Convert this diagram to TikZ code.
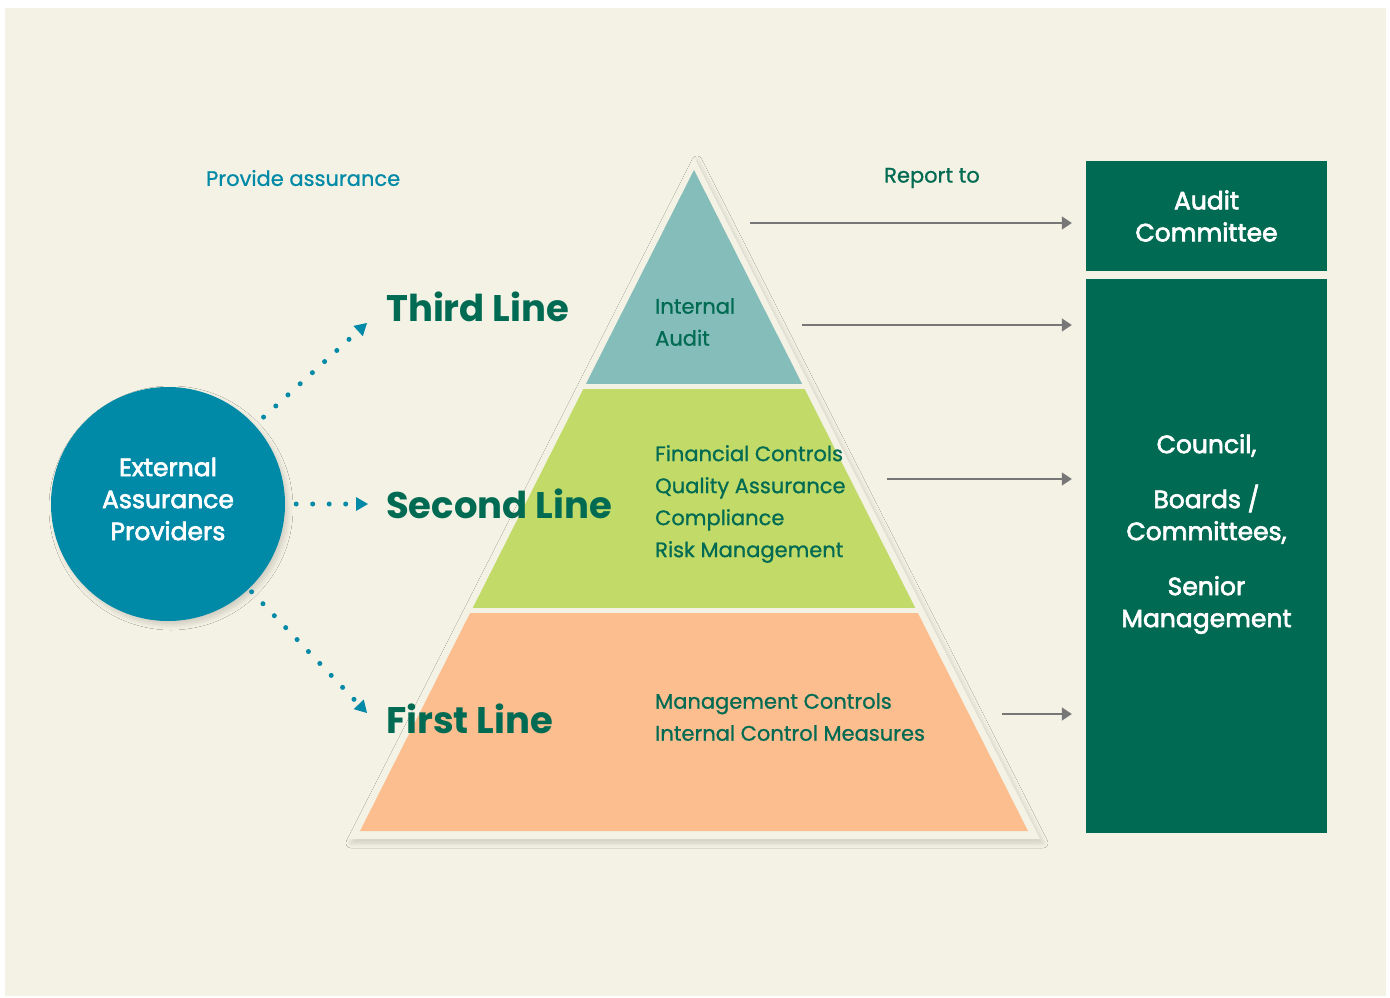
\documentclass[tikz,border=0pt]{standalone}
\usepackage{fontspec}
\setmainfont{Poppins}
\newfontfamily\boxfont[FakeBold=2.6]{Poppins}
\newfontfamily\bodyfont[FakeBold=0.8]{Poppins}
\usetikzlibrary{arrows.meta,shadows.blur}
\definecolor{paper}{HTML}{F4F2E4}
\definecolor{deepgreen}{HTML}{006A52}
\definecolor{seablue}{HTML}{008AA8}
\definecolor{auditteal}{HTML}{84BDBA}
\definecolor{bandlime}{HTML}{C2DA68}
\definecolor{bandpeach}{HTML}{FCBE8F}
\definecolor{arrowgray}{HTML}{777777}
\begin{document}
\begin{tikzpicture}[x=1pt,y=-1pt,
  body/.style={font=\bodyfont\fontsize{21}{32}\selectfont, text=deepgreen, align=left, anchor=west, inner sep=0pt},
  linelabel/.style={font=\fontsize{37}{44}\selectfont\bfseries, text=deepgreen, anchor=west, inner sep=0pt},
  boxtext/.style={font=\boxfont\fontsize{25}{32}\selectfont, text=white, align=center},
  greenbox/.style={fill=deepgreen, minimum width=241pt, inner sep=0pt},
  softshadow/.style={blur shadow={shadow xshift=3pt, shadow yshift=-4pt, shadow blur radius=5pt, shadow opacity=15}},
  reportarrow/.style={arrowgray, line width=1.6pt, -{Triangle[width=13pt,length=10pt]}, shorten >=14pt},
  assurarrow/.style={seablue, line width=5pt, line cap=round, dash pattern=on 0pt off 16.5pt, -{Triangle[width=14pt,length=12pt,line width=0pt]}}]
\useasboundingbox (0,0) rectangle (1390,998);
\fill[white] (0,0) rectangle (1390,998);
\fill[paper] (5,8) rectangle (1386,996);

% pyramid
\fill[paper, softshadow] (694,157) -- (1040,839) -- (348,839) -- cycle;
\foreach \ytop/\ybot/\col in {170/383/auditteal, 389/607/bandlime, 613/831/bandpeach}{
  \begin{scope}
    \clip (0,\ytop) rectangle (1390,\ybot);
    \fill[\col] (694,170) -- (1028,831) -- (360,831) -- cycle;
  \end{scope}
}

\node[body, text=seablue] (provide) at (206,178) {Provide assurance};
\node[body] (report) at (884,178) {Report to};

\node[linelabel] (third) at (386,307) {Third Line};
\node[linelabel] (second) at (386,504) {Second Line};
\node[linelabel] (first) at (386,719) {First Line};

\node[body] (ia) at (655,322) {Internal\\Audit};
\node[body] (fc) at (655,504) {Financial Controls\\Quality Assurance\\Compliance\\Risk Management};
\node[body] (mc) at (655,717) {Management Controls\\Internal Control Measures};

\node[circle, fill=seablue, minimum size=234pt, inner sep=0pt, softshadow] (ext) at (168,504) {};
\node[boxtext] (extnote) at (168,499) {External\\Assurance\\Providers};

\node[greenbox, minimum height=110pt, boxtext] (audit) at (1206.5,216) {Audit\\Committee};
\node[greenbox, minimum height=554pt] (council) at (1206.5,556) {};
\node[boxtext] (councilnote) at (1206.5,534) {Council,\\[23pt]Boards /\\Committees,\\[23pt]Senior\\Management};

\coordinate (tip3) at (367,323);
\coordinate (tip2) at (368,504);
\coordinate (tip1) at (367,713);
\draw[assurarrow, shorten <=12pt] (ext) -- (tip3);
\draw[assurarrow, shorten <=11pt] (ext) -- (tip2);
\draw[assurarrow, shorten <=4pt] (ext) -- (tip1);

\coordinate (r1) at (750,223);
\coordinate (r2) at (802,325);
\coordinate (r3) at (887,479);
\coordinate (r4) at (1002,714);
\draw[reportarrow] (r1) -- (r1 -| audit.west);
\draw[reportarrow] (r2) -- (r2 -| council.west);
\draw[reportarrow] (r3) -- (r3 -| council.west);
\draw[reportarrow] (r4) -- (r4 -| council.west);
\end{tikzpicture}
\end{document}
